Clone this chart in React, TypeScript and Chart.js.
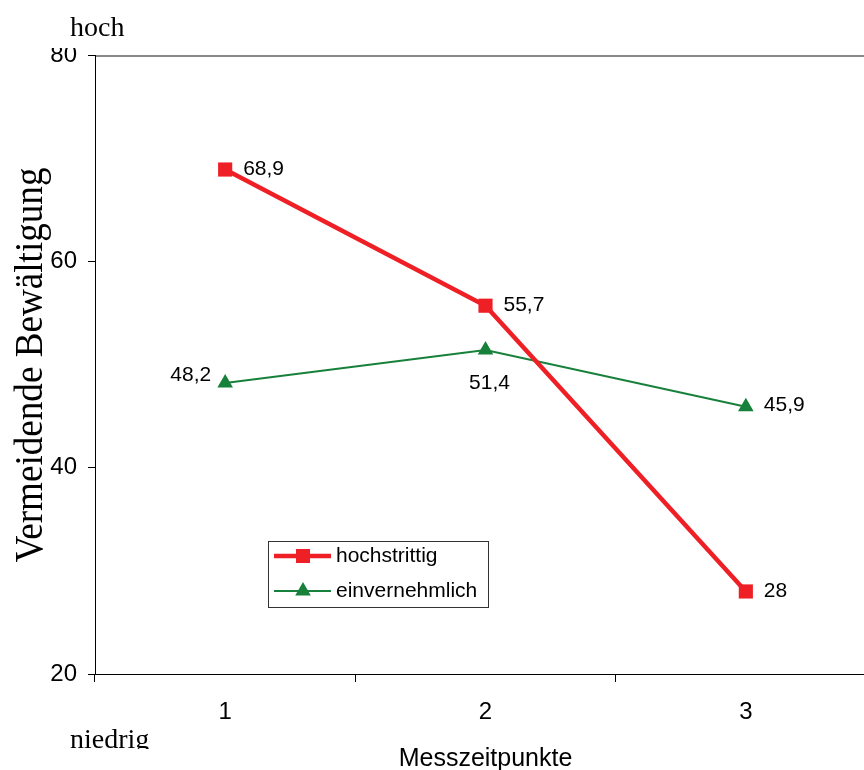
import React, { useEffect, useRef } from 'react';
import { Chart, registerables } from 'chart.js';

Chart.register(...registerables);

const categories = ['1', '2', '3'];
const hochstrittig = [68.9, 55.7, 28];
const einvernehmlich = [48.2, 51.4, 45.9];
const seriesNames = ['hochstrittig', 'einvernehmlich'];
const yMin = 20;
const yMax = 80;
const yStep = 20;
const xTitle = 'Messzeitpunkte';
const yTitle = 'Vermeidende Bewältigung';
const topNote = 'hoch';
const bottomNote = 'niedrig';

const RED = '#EE1F25';
const GREEN = '#17803A';
const SANS = '"Liberation Sans", Arial, sans-serif';
const SERIF = '"Liberation Serif", "Times New Roman", serif';

const fmt = (v: number) => String(v).replace('.', ',');

type Place = 'right' | 'left' | 'below';

const redPlaces: Place[] = ['right', 'right', 'right'];
const greenPlaces: Place[] = ['left', 'below', 'right'];

function drawMarker(ctx: CanvasRenderingContext2D, style: string, x: number, y: number, color: string) {
  ctx.fillStyle = color;
  if (style === 'rect') {
    ctx.fillRect(x - 7, y - 7, 14, 14);
  } else {
    const r = 9;
    ctx.beginPath();
    ctx.moveTo(x, y - r);
    ctx.lineTo(x + r * 0.866, y + r / 2);
    ctx.lineTo(x - r * 0.866, y + r / 2);
    ctx.closePath();
    ctx.fill();
  }
}

const annotPlugin = {
  id: 'annot',
  afterDraw(chart: any) {
    const ctx: CanvasRenderingContext2D = chart.ctx;
    const a = chart.chartArea;
    ctx.save();

    // top plot border
    ctx.strokeStyle = '#8a8a8a';
    ctx.lineWidth = 2;
    ctx.beginPath();
    ctx.moveTo(a.left + 1, a.top + 1);
    ctx.lineTo(a.right, a.top + 1);
    ctx.stroke();

    // data labels
    ctx.fillStyle = '#000';
    ctx.font = `21px ${SANS}`;
    chart.data.datasets.forEach((ds: any, di: number) => {
      const meta = chart.getDatasetMeta(di);
      const places: Place[] = ds.labelPlaces;
      meta.data.forEach((pt: any, i: number) => {
        const txt = fmt(ds.data[i]);
        const p = places[i];
        ctx.textBaseline = 'middle';
        if (p === 'right') {
          ctx.textAlign = 'left';
          ctx.fillText(txt, pt.x + 18, pt.y + (di === 0 ? 0 : -2));
        } else if (p === 'left') {
          ctx.textAlign = 'right';
          ctx.fillText(txt, pt.x - 14, pt.y - 8);
        } else {
          ctx.textAlign = 'center';
          ctx.fillText(txt, pt.x + 4, pt.y + 33);
        }
      });
    });

    // legend
    const lx = 268, ly = 541, lw = 220, lh = 66;
    ctx.fillStyle = '#fff';
    ctx.fillRect(lx, ly, lw, lh);
    ctx.strokeStyle = '#333';
    ctx.lineWidth = 1;
    ctx.strokeRect(lx + 0.5, ly + 0.5, lw, lh);
    chart.data.datasets.forEach((ds: any, di: number) => {
      const yy = di === 0 ? 556 : 591;
      ctx.strokeStyle = ds.borderColor;
      ctx.lineWidth = ds.borderWidth;
      ctx.beginPath();
      ctx.moveTo(274, yy);
      ctx.lineTo(331, yy);
      ctx.stroke();
      drawMarker(ctx, ds.pointStyle, 303, yy, ds.borderColor);
      ctx.fillStyle = '#000';
      ctx.font = `21px ${SANS}`;
      ctx.textAlign = 'left';
      ctx.textBaseline = 'middle';
      ctx.fillText(ds.label, 336, yy);
    });

    // x title
    ctx.fillStyle = '#000';
    ctx.font = `25px ${SANS}`;
    ctx.textAlign = 'center';
    ctx.textBaseline = 'alphabetic';
    ctx.fillText(xTitle, (a.left + a.right) / 2, 766);

    // y title
    ctx.save();
    ctx.font = `40px ${SERIF}`;
    const w = ctx.measureText(yTitle).width;
    const target = 395;
    ctx.translate(42, 365);
    ctx.rotate(-Math.PI / 2);
    ctx.scale(target / w, 1);
    ctx.textAlign = 'center';
    ctx.textBaseline = 'alphabetic';
    ctx.fillText(yTitle, 0, 0);
    ctx.restore();

    // "hoch" (covers top of the 80 label)
    ctx.fillStyle = '#fff';
    ctx.fillRect(40, 0, 100, 48);
    ctx.fillStyle = '#000';
    ctx.font = `28px ${SERIF}`;
    ctx.textAlign = 'left';
    ctx.textBaseline = 'alphabetic';
    ctx.fillText(topNote, 70, 36);

    // "niedrig" (clipped at bottom)
    ctx.save();
    ctx.beginPath();
    ctx.rect(0, 0, 300, 749);
    ctx.clip();
    ctx.fillText(bottomNote, 70, 748);
    ctx.restore();

    ctx.restore();
  },
};

export default function App() {
  const ref = useRef<HTMLCanvasElement | null>(null);

  useEffect(() => {
    if (!ref.current) return;
    const chart = new Chart(ref.current, {
      type: 'line',
      data: {
        labels: categories,
        datasets: [
          {
            label: seriesNames[0],
            data: hochstrittig,
            borderColor: RED,
            backgroundColor: RED,
            borderWidth: 4.5,
            pointStyle: 'rect',
            pointRadius: 10,
            pointBorderWidth: 0,
            pointBackgroundColor: RED,
            tension: 0,
            labelPlaces: redPlaces,
          } as any,
          {
            label: seriesNames[1],
            data: einvernehmlich,
            borderColor: GREEN,
            backgroundColor: GREEN,
            borderWidth: 2,
            pointStyle: 'triangle',
            pointRadius: 9,
            pointBorderWidth: 0,
            pointBackgroundColor: GREEN,
            tension: 0,
            labelPlaces: greenPlaces,
          } as any,
        ],
      },
      options: {
        responsive: false,
        animation: false,
        devicePixelRatio: 1,
        layout: { padding: { left: 0, top: 55, right: 5, bottom: 0 } },
        plugins: {
          legend: { display: false },
          tooltip: { enabled: false },
        },
        scales: {
          x: {
            type: 'category',
            offset: true,
            grid: {
              offset: true,
              drawOnChartArea: false,
              drawTicks: true,
              tickLength: 8,
              color: '#000',
              tickColor: '#000',
            },
            border: { color: '#000', width: 1 },
            ticks: {
              color: '#000',
              font: { family: SANS, size: 24 },
              padding: 16,
              maxRotation: 0,
            },
            afterFit: (s: any) => {
              s.height = 96;
            },
          },
          y: {
            min: yMin,
            max: yMax,
            grid: {
              drawOnChartArea: false,
              drawTicks: true,
              tickLength: 7,
              color: '#000',
              tickColor: '#000',
            },
            border: { color: '#000', width: 1 },
            ticks: {
              stepSize: yStep,
              color: '#000',
              font: { family: SANS, size: 24 },
              padding: 11,
            },
            afterFit: (s: any) => {
              s.width = 95;
            },
          },
        },
      } as any,
      plugins: [annotPlugin],
    });
    return () => chart.destroy();
  }, []);

  return (
    <div
      style={{
        position: 'absolute',
        left: 0,
        top: 0,
        width: 864,
        height: 770,
        overflow: 'hidden',
        background: '#fff',
      }}
    >
      <canvas ref={ref} width={886} height={770} style={{ width: 886, height: 770, display: 'block' }} />
    </div>
  );
}
